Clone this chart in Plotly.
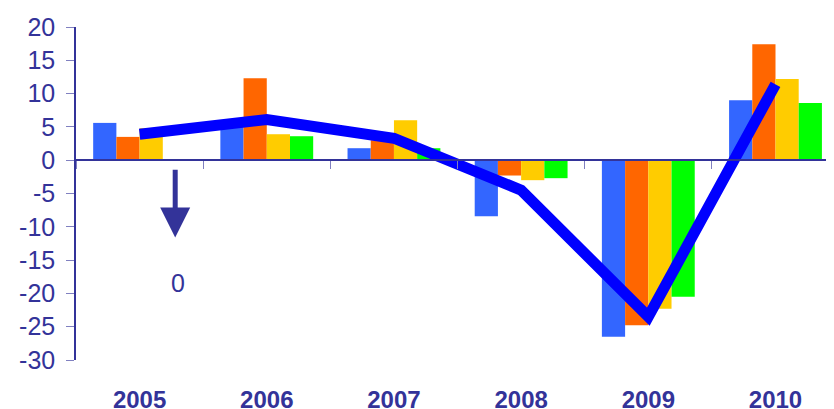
import plotly.graph_objects as go

years = ["2005", "2006", "2007", "2008", "2009", "2010"]
series_blue = [5.6, 5.0, 1.8, -8.4, -26.5, 9.0]
series_orange = [3.5, 12.3, 3.0, -2.3, -24.8, 17.4]
series_yellow = [4.8, 3.9, 6.0, -3.0, -22.3, 12.2]
series_green = [None, 3.6, 1.8, -2.7, -20.5, 8.6]
line_values = [3.9, 6.1, 3.3, -4.5, -23.5, 11.4]

y_tick_vals = [20, 15, 10, 5, 0, -5, -10, -15, -20, -25, -30]
y_tick_text = ["20", "15", "10", "5", "0", "-5", "-10", "-15", "-20", "-25", "-30"]

AX = "#333399"
FONT = "Arial, Liberation Sans, sans-serif"

fig = go.Figure()
for vals, col in [(series_blue, "#3366FF"), (series_orange, "#FF6600"),
                  (series_yellow, "#FFCC00"), (series_green, "#00FF00")]:
    fig.add_trace(go.Bar(x=years, y=vals, marker=dict(color=col, line=dict(width=0)),
                         xaxis="x", yaxis="y", showlegend=False))

fig.add_trace(go.Scatter(x=years, y=line_values, mode="lines",
                         line=dict(color="#0000FF", width=11),
                         xaxis="x2", yaxis="y", showlegend=False))

# page body has an 8px margin, so the figure is sized to fit inside the window
fig.update_layout(
    width=826, height=401,
    margin=dict(l=68, r=0, t=19, b=49, autoexpand=False),
    paper_bgcolor="white", plot_bgcolor="white",
    barmode="group", bargap=0.27, bargroupgap=0,
    font=dict(family=FONT, color=AX),
    xaxis=dict(type="category", categoryarray=years, range=[-0.5, 5.46],
               anchor="free", position=0.6, showline=True, linecolor=AX, linewidth=1.5,
               ticks="outside", tickson="boundaries", ticklen=8, tickcolor="#8080c0",
               showticklabels=False, showgrid=False, zeroline=False, automargin=False),
    xaxis2=dict(type="category", categoryarray=years, range=[-0.5, 5.46],
                overlaying="x", anchor="y", side="bottom", showline=False, ticks="",
                showgrid=False, zeroline=False, ticklabelstandoff=23, automargin=False,
                tickfont=dict(size=24, family=FONT, color=AX, weight="bold")),
    yaxis=dict(range=[-30, 20], tickvals=y_tick_vals, ticktext=y_tick_text,
               showline=True, linecolor=AX, linewidth=1.5, ticks="outside", ticklen=8,
               tickcolor="#8080c0", showgrid=False, zeroline=False, automargin=False,
               tickfont=dict(size=25, family=FONT, color=AX), ticklabelstandoff=6),
)

fig.add_annotation(x=0.28, y=-11.6, xref="x", yref="y", ax=0.28, ay=-1.2,
                   axref="x", ayref="y", text="", showarrow=True,
                   arrowhead=2, arrowsize=1.2, arrowwidth=5, arrowcolor=AX)
fig.add_annotation(x=0.30, y=-18.5, xref="x", yref="y", text="0", showarrow=False,
                   font=dict(size=25, family=FONT, color=AX))

fig.write_html("out.html")
